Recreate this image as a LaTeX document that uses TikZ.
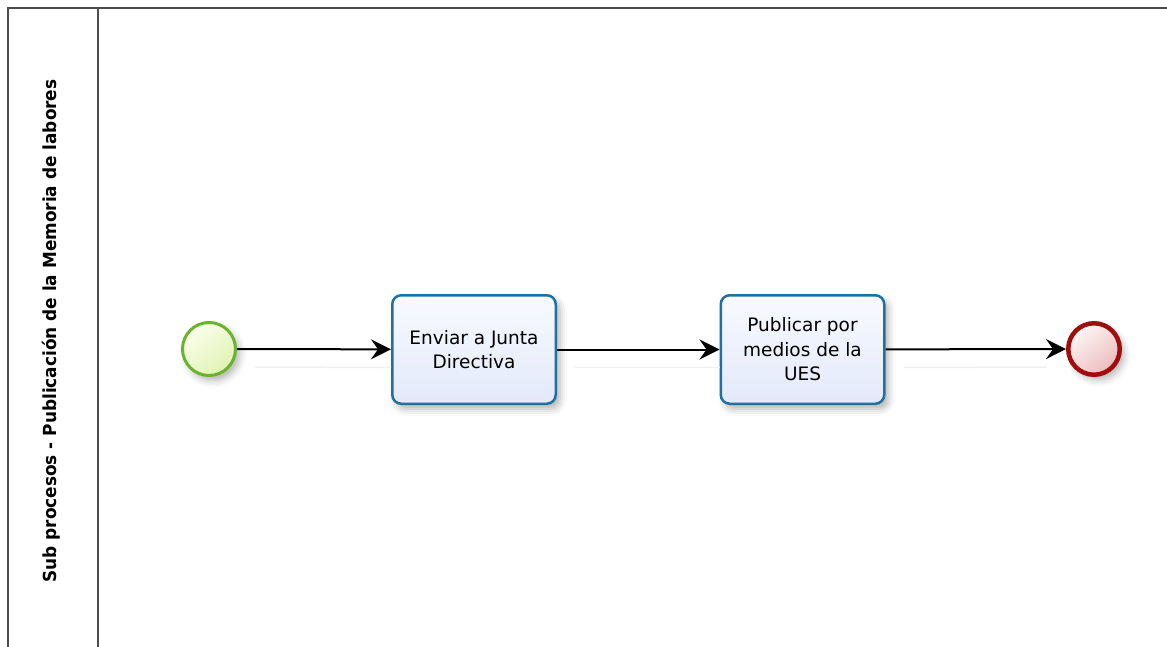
\documentclass[tikz,border=0pt]{standalone}
\usepackage{fontspec}
\setmainfont{DejaVu Sans}
\usetikzlibrary{arrows.meta,shadows.blur}

\definecolor{laneline}{HTML}{4D4D4D}
\definecolor{startbd}{HTML}{6AB42D}
\definecolor{startlt}{HTML}{FBFFEC}
\definecolor{startdk}{HTML}{E0F2B4}
\definecolor{endbd}{HTML}{A10D0D}
\definecolor{endlt}{HTML}{FFF6F6}
\definecolor{enddk}{HTML}{ECBCBC}
\definecolor{taskbd}{HTML}{2171A0}
\definecolor{tasklt}{HTML}{F8FAFF}
\definecolor{taskdk}{HTML}{E3E9FA}

\tikzset{
  softshadow/.style={blur shadow={shadow xshift=4pt, shadow yshift=-5pt,
      shadow blur radius=7pt, shadow opacity=30}},
  lane/.style={draw=laneline, line width=2pt},
  event/.style={circle, inner sep=0pt, softshadow, shade, shading=axis},
  startev/.style={event, minimum size=53pt, draw=startbd, line width=3pt,
      top color=startlt, bottom color=startdk, shading angle=40},
  endev/.style={event, minimum size=51.5pt, draw=endbd, line width=4.5pt,
      top color=endlt, bottom color=enddk, shading angle=40},
  task/.style={rectangle, rounded corners=9pt, draw=taskbd, line width=2.5pt,
      minimum width=163.5pt, minimum height=108.5pt, inner sep=0pt,
      align=center, softshadow, top color=tasklt, bottom color=taskdk,
      font=\fontsize{18.5}{24.5}\selectfont},
  flow/.style={draw=black, line width=2pt,
      -{Stealth[length=20pt, width=20pt, inset=7pt]}},
  flowshadow/.style={draw=black!6, line width=1.5pt},
  lanelabel/.style={rotate=90, inner sep=0pt}
}

\begin{document}
\begin{tikzpicture}[x=1pt, y=-1pt]
\useasboundingbox (0,0) rectangle (1167,647);

% pool frame and header divider
\draw[lane] (8,647) |- (1167,8);
\draw[lane] (98,8) -- (98,647);

% lane title, narrowed to the lane height
\node[lanelabel] (title) at (51.5,331)
  {\resizebox{503pt}{\height}{\fontsize{18}{20}\selectfont\bfseries
    Sub procesos - Publicación de la Memoria de labores}};

% flow elements
\node[startev] (start) at (209,349) {};
\node[task] (t1) at (474,349.5) {Enviar a Junta\\Directiva};
\node[task] (t2) at (802.5,349.5) {Publicar por\\medios de la\\UES};
\node[endev] (end) at (1094,349) {};

% faint shadows under the sequence flows
\draw[flowshadow] ([xshift=18pt, yshift=-18pt]start.east) -- ([yshift=-18pt]t1.west);
\draw[flowshadow] ([xshift=18pt, yshift=-18pt]t1.east) -- ([yshift=-18pt]t2.west);
\draw[flowshadow] ([xshift=18pt, yshift=-18pt]t2.east) -- ([xshift=-20pt, yshift=-18pt]end.west);

% sequence flows
\draw[flow] (start) -- (t1);
\draw[flow] (t1) -- (t2);
\draw[flow] (t2) -- (end);
\end{tikzpicture}
\end{document}
